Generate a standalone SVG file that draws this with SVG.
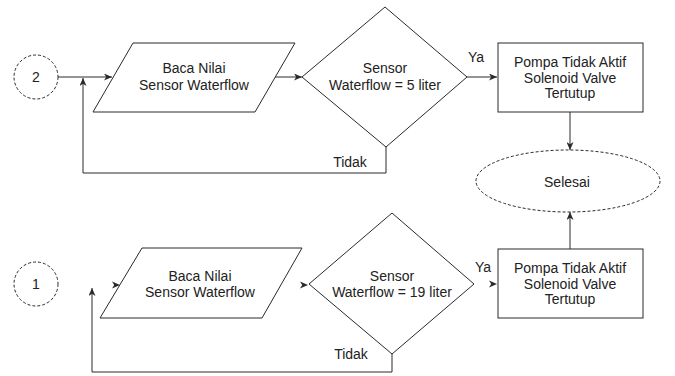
<svg xmlns="http://www.w3.org/2000/svg" width="675" height="376" viewBox="0 0 675 376">
  <style>
    .shape { fill: #ffffff; stroke: #2a2a2a; stroke-width: 1; }
    .dash { stroke-dasharray: 3 2; }
    .edge { fill: none; stroke: #2a2a2a; stroke-width: 1; }
    .lbl { font-family: "Liberation Sans", Arial, sans-serif; font-size: 14px; fill: #222; text-anchor: middle; }
  </style>
  <defs>
    <marker id="arrow" viewBox="0 0 8 7" refX="8" refY="3.5" markerWidth="8" markerHeight="7" markerUnits="userSpaceOnUse" orient="auto">
      <path d="M0,0 L8,3.5 L0,7 L2.2,3.5 z" fill="#2a2a2a"/>
    </marker>
    <path id="head" d="M-8,-3.5 L0,0 L-8,3.5 L-5.8,0 z" fill="#2a2a2a"/>
  </defs>

  <rect width="675" height="376" fill="#ffffff"/>

  <!-- connectors -->
  <g id="connectors">
    <!-- upper flow -->
    <path class="edge" d="M58,77 L112,77" marker-end="url(#arrow)"/>
    <path class="edge" d="M274,77 L302,77" marker-end="url(#arrow)"/>
    <path class="edge" d="M467,77 L497,77" marker-end="url(#arrow)"/>
    <path class="edge" d="M570,112 L570,150" marker-end="url(#arrow)"/>
    <path class="edge" d="M386,147 L386,173 L83,173 L83,78" marker-end="url(#arrow)"/>
    <!-- lower flow -->
    <path class="edge" d="M570,249 L570,212" marker-end="url(#arrow)"/>
    <path class="edge" d="M392,354 L392,372 L92,372 L92,288" marker-end="url(#arrow)"/>
    <use href="#head" x="120" y="285"/>
    <use href="#head" x="308" y="285"/>
    <use href="#head" x="497" y="284"/>
  </g>

  <!-- upper flow nodes -->
  <g id="start2">
    <circle class="shape dash" cx="36" cy="77" r="22"/>
    <text class="lbl" x="36" y="82">2</text>
  </g>
  <g id="read2">
    <polygon class="shape" points="133,43 295,43 255,112 93,112"/>
    <text class="lbl" x="194" y="73">Baca Nilai</text>
    <text class="lbl" x="194" y="90">Sensor Waterflow</text>
  </g>
  <g id="check2">
    <polygon class="shape" points="385,7 467,77 386,147 302,77"/>
    <text class="lbl" x="385" y="73">Sensor</text>
    <text class="lbl" x="385" y="90">Waterflow = 5 liter</text>
  </g>
  <g id="pump2">
    <rect class="shape" x="498" y="43" width="145" height="69"/>
    <text class="lbl" x="570" y="67">Pompa Tidak Aktif</text>
    <text class="lbl" x="570" y="82.5">Solenoid Valve</text>
    <text class="lbl" x="570" y="98">Tertutup</text>
  </g>
  <g id="end">
    <ellipse class="shape dash" cx="568" cy="181" rx="92" ry="31"/>
    <text class="lbl" x="567" y="187">Selesai</text>
  </g>

  <!-- lower flow nodes -->
  <g id="start1">
    <circle class="shape dash" cx="36" cy="284" r="22"/>
    <text class="lbl" x="36" y="289">1</text>
  </g>
  <g id="read1">
    <polygon class="shape" points="142,248 302,248 262,318 100,318"/>
    <text class="lbl" x="200" y="281">Baca Nilai</text>
    <text class="lbl" x="200" y="297">Sensor Waterflow</text>
  </g>
  <g id="check1">
    <polygon class="shape" points="392,213 474,284 392,354 309,284"/>
    <text class="lbl" x="392" y="281">Sensor</text>
    <text class="lbl" x="392" y="297">Waterflow = 19 liter</text>
  </g>
  <g id="pump1">
    <rect class="shape" x="498" y="249" width="145" height="69"/>
    <text class="lbl" x="570" y="273">Pompa Tidak Aktif</text>
    <text class="lbl" x="570" y="288.5">Solenoid Valve</text>
    <text class="lbl" x="570" y="304">Tertutup</text>
  </g>

  <!-- branch labels -->
  <g id="labels">
    <text class="lbl" x="476" y="62">Ya</text>
    <text class="lbl" x="350" y="167">Tidak</text>
    <text class="lbl" x="483" y="272">Ya</text>
    <text class="lbl" x="351" y="359">Tidak</text>
  </g>
</svg>
